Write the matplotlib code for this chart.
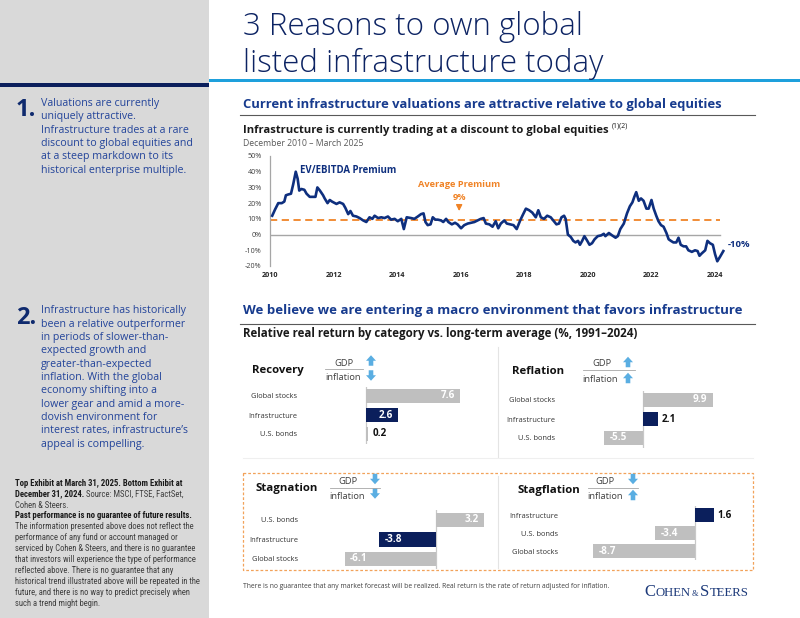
import matplotlib
matplotlib.use("Agg")
import matplotlib.pyplot as plt
from matplotlib.patches import Rectangle, Polygon

# ---------------- data ----------------
premium_years = [
    2010.07, 2010.16, 2010.26, 2010.37, 2010.45, 2010.50, 2010.57, 2010.66, 2010.73, 2010.81,
    2010.87, 2010.92, 2010.99, 2011.08, 2011.15, 2011.25, 2011.36, 2011.43, 2011.49, 2011.57,
    2011.67, 2011.72, 2011.81, 2011.88, 2011.95, 2012.09, 2012.19, 2012.30, 2012.37, 2012.46,
    2012.53, 2012.61, 2012.72, 2012.82, 2012.93, 2013.03, 2013.13, 2013.22, 2013.29, 2013.40,
    2013.50, 2013.60, 2013.71, 2013.81, 2013.92, 2014.02, 2014.13, 2014.21, 2014.30, 2014.44,
    2014.54, 2014.65, 2014.75, 2014.83, 2014.89, 2014.96, 2015.05, 2015.12, 2015.20, 2015.28,
    2015.38, 2015.45, 2015.54, 2015.61, 2015.72, 2015.82, 2015.90, 2016.01, 2016.11, 2016.22,
    2016.32, 2016.43, 2016.53, 2016.63, 2016.72, 2016.79, 2016.90, 2017.00, 2017.10, 2017.18,
    2017.26, 2017.37, 2017.45, 2017.55, 2017.66, 2017.76, 2017.87, 2017.94, 2018.05, 2018.15,
    2018.25, 2018.36, 2018.44, 2018.52, 2018.62, 2018.72, 2018.83, 2018.91, 2019.01, 2019.09,
    2019.17, 2019.25, 2019.30, 2019.37, 2019.46, 2019.54, 2019.61, 2019.69, 2019.75, 2019.82,
    2019.89, 2019.98, 2020.05, 2020.13, 2020.21, 2020.31, 2020.42, 2020.50, 2020.55, 2020.66,
    2020.76, 2020.87, 2020.94, 2021.02, 2021.13, 2021.23, 2021.32, 2021.40, 2021.46, 2021.52,
    2021.60, 2021.67, 2021.75, 2021.84, 2021.91, 2022.00, 2022.07, 2022.15, 2022.22, 2022.30,
    2022.38, 2022.47, 2022.54, 2022.61, 2022.69, 2022.78, 2022.85, 2022.92, 2023.01, 2023.09,
    2023.16, 2023.27, 2023.37, 2023.45, 2023.51, 2023.58, 2023.69, 2023.76, 2023.84, 2023.93,
    2024.00, 2024.07, 2024.16, 2024.26,
]
premium_values = [
    12, 16, 20, 20, 21, 25, 25.5, 26, 32, 40,
    35.5, 28, 29, 28.5, 26, 24, 24, 24, 30, 28,
    25, 23, 20, 22, 21, 19.5, 20.5, 19.5, 17, 13,
    15, 12, 11.5, 10.5, 9, 8, 11, 10, 12, 10.5,
    11, 10.5, 11.5, 9.5, 10, 8.5, 10, 3.5, 11, 10.5,
    10, 11.5, 13, 13.5, 8, 6, 6.5, 11, 9.5, 9.5,
    9, 8, 10, 8, 6.5, 7.5, 6.5, 4, 6, 7,
    7.5, 8, 9, 10, 10.5, 7, 6.5, 5, 8.5, 4,
    7, 9, 7, 6.5, 6, 3.5, 9, 12, 16.5, 15.5,
    14, 11, 15.5, 11, 10, 12, 11, 9, 6.5, 7,
    11, 12, 10, 0, -1.5, -4, -5, -4, -6.5, -4,
    -1, -4, -6.5, -5.5, -3, -1, -0.5, 0.5, -1, 1,
    -0.5, -2, -1, 3.5, 7, 13.5, 18, 20.5, 24, 27,
    21.5, 23, 21.5, 16.5, 16.5, 22, 16.5, 12, 8.5, 6,
    5, 1, -3, -4, -5, -5, -2, -6.5, -7.5, -7.5,
    -10, -11, -10, -10.5, -13.5, -12, -10, -4, -5.5, -6.5,
    -12.5, -17, -14, -10.5,
]
average_premium = 9
premium_yticks = [50, 40, 30, 20, 10, 0, -10, -20]
premium_xticks = [2010, 2012, 2014, 2016, 2018, 2020, 2022, 2024]

regime_names = ["Recovery", "Reflation", "Stagnation", "Stagflation"]
regime_gdp = ["up", "up", "down", "down"]
regime_inflation = ["down", "up", "down", "up"]
recovery_categories = ["Global stocks", "Infrastructure", "U.S. bonds"]
recovery_values = [7.6, 2.6, 0.2]
reflation_categories = ["Global stocks", "Infrastructure", "U.S. bonds"]
reflation_values = [9.9, 2.1, -5.5]
stagnation_categories = ["U.S. bonds", "Infrastructure", "Global stocks"]
stagnation_values = [3.2, -3.8, -6.1]
stagflation_categories = ["Infrastructure", "U.S. bonds", "Global stocks"]
stagflation_values = [1.6, -3.4, -8.7]

# ---------------- styles ----------------
W, H = 800, 618
SANS = "Open Sans"
NARROW = ["Liberation Sans Narrow", "Roboto Condensed", "Barlow Semi Condensed"]
NAVY = "#0b1f5c"
TITLE_C = "#0c2363"
HEAD_C = "#173b8e"
PARA_C = "#23449a"
LINE_C = "#0e2f7e"
ORANGE = "#f08326"
GREY_BAR = "#bfbfbf"
ARROW_C = "#5aaee2"
DARK = "#404040"

fig = plt.figure(figsize=(W / 100, H / 100), dpi=100)
fig.patch.set_facecolor("white")
bg = fig.add_axes([0, 0, 1, 1])
bg.set_xlim(0, W)
bg.set_ylim(H, 0)
bg.axis("off")
R = fig.canvas.get_renderer()


def px_axes(x0, y0, x1, y1):
    return fig.add_axes([x0 / W, 1 - y1 / H, (x1 - x0) / W, (y1 - y0) / H])


def txt(x, y, s, size, target=None, **kw):
    kw.setdefault("va", "baseline")
    kw.setdefault("family", SANS)
    t = bg.text(x, y, s, fontsize=size, **kw)
    if target:
        w = t.get_window_extent(renderer=R).width
        size = size * target / w
        t.set_fontsize(size)
    return t, size


def fitsize(s, size, target, **kw):
    kw.setdefault("family", SANS)
    t = bg.text(0, 0, s, fontsize=size, **kw)
    w = t.get_window_extent(renderer=R).width
    t.remove()
    return size * target / w


def runs(x, y, pieces, size, family, color):
    gap = 0.25 * size * 100 / 72
    for s, w in pieces:
        t = bg.text(x, y, s, fontsize=size, fontweight=w, family=family,
                    color=color if w == "normal" else "#1a1a1a", va="baseline")
        x += t.get_window_extent(renderer=R).width + gap


def arrow(cx, cy, up, w=10, h=10.5, hh=5.5, sw=4.6):
    top, bot = cy - h / 2, cy + h / 2
    if up:
        pts = [(cx, top), (cx + w / 2, top + hh), (cx + sw / 2, top + hh), (cx + sw / 2, bot),
               (cx - sw / 2, bot), (cx - sw / 2, top + hh), (cx - w / 2, top + hh)]
    else:
        pts = [(cx, bot), (cx + w / 2, bot - hh), (cx + sw / 2, bot - hh), (cx + sw / 2, top),
               (cx - sw / 2, top), (cx - sw / 2, bot - hh), (cx - w / 2, bot - hh)]
    bg.add_patch(Polygon(pts, closed=True, fc=ARROW_C, ec="none"))


# ---------------- background shapes ----------------
bg.add_patch(Rectangle((0, 0), 209, H, fc="#d9d9d9", ec="none"))
bg.add_patch(Rectangle((0, 82.5), 209, 4.5, fc=NAVY, ec="none"))
bg.add_patch(Rectangle((209, 78.8), W - 209, 3.4, fc="#1ea0dc", ec="none"))

# ---------------- title ----------------
t2, ts = txt(243, 71.5, "listed infrastructure today", 20, target=361, color=TITLE_C, fontweight="light")
txt(243, 35, "3 Reasons to own global", ts, color=TITLE_C, fontweight="light")

# ---------------- left panel text ----------------
para1 = ["Valuations are currently", "uniquely attractive.", "Infrastructure trades at a rare",
         "discount to global equities and", "at a steep markdown to its",
         "historical enterprise multiple."]
para2 = ["Infrastructure has historically", "been a relative outperformer",
         "in periods of slower-than-", "expected growth and", "greater-than-expected",
         "inflation. With the global", "economy shifting into a", "lower gear and amid a more-",
         "dovish environment for", "interest rates, infrastructure\u2019s", "appeal is compelling."]
psize = fitsize(para1[3], 7.5, 152)
for i, line in enumerate(para1):
    txt(41, 106 + i * 13.33, line, psize, color=PARA_C)
for i, line in enumerate(para2):
    txt(41, 313.5 + i * 13.33, line, psize, color=PARA_C)
txt(16, 115.5, "1.", 17, color="#0f2a6e", fontweight="bold")
txt(16, 323.5, "2.", 17, color="#0f2a6e", fontweight="bold")

note_lines = [
    [("Top Exhibit at March 31, 2025. Bottom Exhibit at", "bold")],
    [("December 31, 2024.", "bold"), ("Source: MSCI, FTSE, FactSet,", "normal")],
    [("Cohen & Steers.", "normal")],
    [("Past performance is no guarantee of future results.", "bold")],
    [("The information presented above does not reflect the", "normal")],
    [("performance of any fund or account managed or", "normal")],
    [("serviced by Cohen & Steers, and there is no guarantee", "normal")],
    [("that investors will experience the type of performance", "normal")],
    [("reflected above. There is no guarantee that any", "normal")],
    [("historical trend illustrated above will be repeated in the", "normal")],
    [("future, and there is no way to predict precisely when", "normal")],
    [("such a trend might begin.", "normal")],
]
nsz = fitsize("serviced by Cohen & Steers, and there is no guarantee", 6, 181, family=NARROW)
for i, pieces in enumerate(note_lines):
    runs(15, 485.7 + i * 10.9, pieces, nsz, NARROW, DARK)

# ---------------- section 1 ----------------
_, hsize = txt(243, 108, "Current infrastructure valuations are attractive relative to global equities",
               9.5, target=481, color=HEAD_C, fontweight="bold")
bg.plot([240, 755], [114.5, 114.5], color="#595959", lw=0.8)
t, csz = txt(243, 133, "Infrastructure is currently trading at a discount to global equities",
             9, target=368, color="#1a1a1a", fontweight="bold")
bg.text(612, 127.5, "(1)(2)", fontsize=csz * 0.62, family=SANS, color="#1a1a1a", va="baseline")
txt(243, 145.5, "December 2010 \u2013 March 2025", 6.5, target=120, color="#595959")

ax = px_axes(270, 156, 724.6, 266)
ax.set_xlim(2010, 2024.3)
ax.set_ylim(-20, 50)
ax.plot(premium_years, premium_values, color=LINE_C, lw=1.9, solid_joinstyle="round", zorder=3)
ax.axhline(0, xmax=0.99, color="#a6a6a6", lw=1.0, zorder=1)
ax.axhline(average_premium, xmax=0.99, color=ORANGE, lw=1.3, ls=(0, (4, 2.5)), zorder=2)
for s in ["top", "right", "bottom"]:
    ax.spines[s].set_visible(False)
ax.spines["left"].set_color("#a6a6a6")
ax.spines["left"].set_linewidth(0.9)
ax.set_yticks(premium_yticks, [f"{v}%" for v in premium_yticks])
ax.set_xticks(premium_xticks, [str(v) for v in premium_xticks])
ax.tick_params(axis="y", length=0, pad=6, labelsize=5.2, labelcolor="#404040")
ax.tick_params(axis="x", length=0, pad=4.5, labelsize=5.2, labelcolor="#262626")
for lab in ax.get_xticklabels() + ax.get_yticklabels():
    lab.set_family(SANS)
for lab in ax.get_xticklabels():
    lab.set_fontweight("bold")
ax.patch.set_alpha(0)
evs = fitsize("EV/EBITDA Premium", 8, 97, fontweight="bold")
ax.text(2010.94, 40.7, "EV/EBITDA Premium", fontsize=evs, family=SANS, fontweight="bold",
        color=LINE_C, va="center", ha="left")
avs = fitsize("Average Premium", 8, 83, fontweight="bold")
ax.text(2015.95, 31.6, "Average Premium", fontsize=avs, family=SANS, fontweight="bold",
        color=ORANGE, va="center", ha="center")
ax.text(2015.95, 23.7, f"{average_premium}%", fontsize=avs, family=SANS, fontweight="bold",
        color=ORANGE, va="center", ha="center")
ax.annotate("", xy=(2015.95, 13.2), xytext=(2015.95, 19.8),
            arrowprops=dict(arrowstyle="-|>,head_length=0.35,head_width=0.18", color=ORANGE, lw=1.0))
ax.annotate(f"{round(premium_values[-1] / 5) * 5:.0f}%", (premium_years[-1], premium_values[-1]),
            xytext=(3, 4.5), textcoords="offset points", fontsize=evs * 0.98, family=SANS,
            fontweight="bold", color=LINE_C, va="center", ha="left", annotation_clip=False)

# ---------------- section 2 ----------------
txt(243, 314, "We believe we are entering a macro environment that favors infrastructure",
    hsize, target=499, color=HEAD_C, fontweight="bold")
bg.plot([240, 755], [324, 324], color="#595959", lw=0.8)
txt(243, 337, "Relative real return by category vs. long-term average (%, 1991\u20132024)",
    8, target=397, color="#1a1a1a", fontweight="bold")

# separators and dashed box
bg.plot([498, 498], [347, 457], color="#e4e4e4", lw=0.8)
bg.plot([243, 753], [457.5, 457.5], color="#efefef", lw=0.8)
bg.plot([498, 498], [476, 568], color="#e4e4e4", lw=0.8)
bg.add_patch(Rectangle((243, 473), 510, 97, fill=False, ec="#f2a25a", lw=0.9, ls=(0, (2.2, 1.6))))

panels = [
    dict(cats=recovery_categories, vals=recovery_values, box=(300, 386.5, 470, 443.5), zero=366, ppu=12.4,
         title=(252, 373.5), gdp=(343.5, 365.5), inf=(343.5, 380), rule=(325, 363, 368.5), arr=371, ay=(360.5, 375.5)),
    dict(cats=reflation_categories, vals=reflation_values, box=(558, 390.5, 728, 447.5), zero=643, ppu=7.05,
         title=(512, 374.5), gdp=(602, 365.5), inf=(600, 382), rule=(583, 635, 369.5), arr=628, ay=(362, 378)),
    dict(cats=stagnation_categories, vals=stagnation_values, box=(301, 510, 495, 568.5), zero=436, ppu=15.0,
         title=(256, 491.5), gdp=(348, 483.5), inf=(347, 499), rule=(330, 380, 487.5), arr=375, ay=(479, 493.5)),
    dict(cats=stagflation_categories, vals=stagflation_values, box=(561, 506, 740, 560), zero=695, ppu=11.7,
         title=(517, 492.5), gdp=(605, 483.5), inf=(605, 499), rule=(588, 638, 487.5), arr=633, ay=(479, 495)),
]

tsz = fitsize("Recovery", 8.5, 51, fontweight="bold")
csz2 = fitsize("Global stocks", 6, 47)
gsz = fitsize("inflation", 7, 36)
vsz = fitsize("7.6", 7, 14, fontweight="bold")

for name, gd, inf, p in zip(regime_names, regime_gdp, regime_inflation, panels):
    txt(p["title"][0], p["title"][1], name, tsz, color="#111111", fontweight="bold")
    txt(p["gdp"][0], p["gdp"][1], "GDP", gsz, color=DARK, ha="center")
    txt(p["inf"][0], p["inf"][1], "inflation", gsz, color=DARK, ha="center")
    r = p["rule"]
    bg.plot([r[0], r[1]], [r[2], r[2]], color="#a6a6a6", lw=0.6)
    arrow(p["arr"], p["ay"][0], gd == "up")
    arrow(p["arr"], p["ay"][1], inf == "up")

    x0, y0, x1, y1 = p["box"]
    a = px_axes(x0, y0, x1, y1)
    a.set_xlim((x0 - p["zero"]) / p["ppu"], (x1 - p["zero"]) / p["ppu"])
    n = len(p["vals"])
    a.set_ylim(n - 0.5, -0.5)
    rowpx = (y1 - y0) / n
    colors = [NAVY if c == "Infrastructure" else GREY_BAR for c in p["cats"]]
    a.barh(range(n), p["vals"], height=(14.5 / rowpx), color=colors, zorder=2)
    a.axvline(0, color="#c8c8c8", lw=0.9, zorder=1)
    a.set_yticks(range(n), p["cats"])
    a.tick_params(axis="y", length=0, pad=2.2, labelsize=csz2, labelcolor="#333333")
    for lab in a.get_yticklabels():
        lab.set_family(SANS)
    a.set_xticks([])
    for s in a.spines.values():
        s.set_visible(False)
    a.patch.set_alpha(0)
    for i, v in enumerate(p["vals"]):
        inside = abs(v) * p["ppu"] > 25
        if inside:
            off, ha, col = (-4, "right", "white") if v > 0 else (4, "left", "white")
        else:
            off, ha, col = (3, "left", "#111111") if v >= 0 else (-3, "right", "#111111")
        a.annotate(f"{v:.1f}", (v, i), xytext=(off, 0), textcoords="offset points", ha=ha,
                   va="center", fontsize=vsz, fontweight="bold", family=SANS, color=col,
                   annotation_clip=False)

# ---------------- footer ----------------
txt(243, 588, "There is no guarantee that any market forecast will be realized. "
    "Real return is the rate of return adjusted for inflation.", 5.5, target=368, color=DARK)

logo = [("C", 12.0), ("OHEN", 9.2), ("&", 6.0), ("S", 12.0), ("TEERS", 9.2)]
lx = 644
for s, sz in logo:
    t = bg.text(lx, 595.5, s, fontsize=sz, family="Liberation Serif", color="#1d3a7a", va="baseline")
    lx += t.get_window_extent(renderer=R).width + (1.6 if s in ("OHEN", "&") else 0.2)

fig.savefig("out.png", dpi=100, facecolor="white")
